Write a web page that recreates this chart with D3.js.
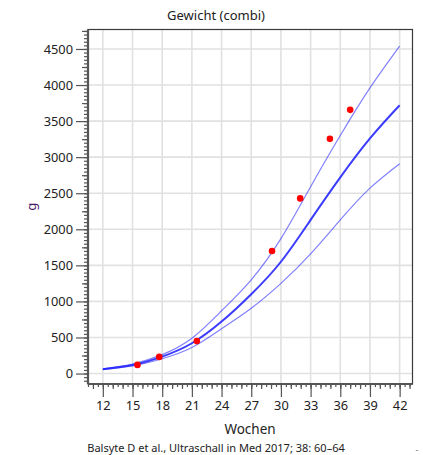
<!DOCTYPE html>
<html>
<head>
<meta charset="utf-8">
<script src="https://cdn.jsdelivr.net/npm/d3@7"></script>
<style>
    body { margin: 0; background: #fff; }
    text { font-family: 'Noto Sans', 'Open Sans', sans-serif; }
</style>
</head>
<body>
<svg id="chart" width="423" height="455"></svg>
<script>
// weeks at which the reference curves were read
const weeks = [12, 15, 18, 21, 24, 27, 30, 33, 36, 39, 42];
const upper = [65, 132, 262, 490, 870, 1300, 1870, 2590, 3300, 3960, 4540];
const median = [60, 118, 235, 420, 720, 1100, 1550, 2130, 2720, 3260, 3720];
const lower = [56, 105, 205, 360, 620, 905, 1250, 1660, 2130, 2570, 2910];

// measured points
const pointWeeks = [15.5, 17.7, 21.5, 29.1, 31.95, 34.95, 37.0];
const pointValues = [120, 231, 450, 1700, 2428, 3254, 3656];

const xTicks = [12, 15, 18, 21, 24, 27, 30, 33, 36, 39, 42];
const yTicks = [0, 500, 1000, 1500, 2000, 2500, 3000, 3500, 4000, 4500];

const title = 'Gewicht (combi)';
const xLabel = 'Wochen';
const yLabel = 'g';
const source = 'Balsyte D et al., Ultraschall in Med 2017; 38: 60\u201364';

const M = { left: 88, top: 29.5, right: 412.5, bottom: 384 };

const svg = d3.select('#chart');

const x = d3.scaleLinear().domain([10.5, 43.3]).range([M.left, M.right]);
const y = d3.scaleLinear().domain([-145, 4770]).range([M.bottom, M.top]);

// grid
const grid = svg.append('g').attr('class', 'grid');
grid.selectAll('line.gx')
    .data(xTicks)
    .enter()
    .append('line')
    .attr('class', 'gx')
    .attr('x1', d => x(d)).attr('x2', d => x(d))
    .attr('y1', M.top).attr('y2', M.bottom)
    .attr('stroke', '#e1e1e1')
    .attr('stroke-width', 1.6);
grid.selectAll('line.gy')
    .data(yTicks)
    .enter()
    .append('line')
    .attr('class', 'gy')
    .attr('x1', M.left).attr('x2', M.right)
    .attr('y1', d => y(d)).attr('y2', d => y(d))
    .attr('stroke', '#e1e1e1')
    .attr('stroke-width', 1.6);

// frame
svg.append('rect')
    .attr('x', M.left).attr('y', M.top)
    .attr('width', M.right - M.left).attr('height', M.bottom - M.top)
    .attr('fill', 'none')
    .attr('stroke', '#3a3a3a')
    .attr('stroke-width', 1.2);

// x axis: major, integer and half-week ticks
const xAxis = svg.append('g').attr('transform', `translate(0,${M.bottom})`);
xAxis.call(d3.axisBottom(x).tickValues(d3.range(10.5, 43.3, 0.5)).tickSize(3).tickFormat(''));
xAxis.append('g').call(d3.axisBottom(x).tickValues(d3.range(11, 44, 1)).tickSize(5).tickFormat(''));
xAxis.append('g').call(d3.axisBottom(x).tickValues(xTicks).tickSize(13).tickPadding(4).tickFormat(d3.format('d')));
xAxis.selectAll('.domain').remove();
xAxis.selectAll('line').attr('stroke', '#555').attr('stroke-width', 1.2);
xAxis.selectAll('text').attr('font-size', 12.8).attr('fill', '#222');
xAxis.append('line')
    .attr('x1', M.left).attr('x2', M.right)
    .attr('stroke', '#555').attr('stroke-width', 2.2);

// y axis: major, 250 and 50 g ticks
const yAxis = svg.append('g').attr('transform', `translate(${M.left},0)`);
yAxis.call(d3.axisLeft(y).tickValues(d3.range(-100, 4770, 50)).tickSize(4).tickFormat(''));
yAxis.append('g').call(d3.axisLeft(y).tickValues(d3.range(250, 4770, 500)).tickSize(6).tickFormat(''));
yAxis.append('g').call(d3.axisLeft(y).tickValues(yTicks).tickSize(12).tickPadding(3).tickFormat(d3.format('d')));
yAxis.selectAll('.domain').remove();
yAxis.selectAll('line').attr('stroke', '#555').attr('stroke-width', 1.2);
yAxis.selectAll('text').attr('font-size', 12.8).attr('fill', '#222');
yAxis.append('line')
    .attr('y1', M.top).attr('y2', M.bottom)
    .attr('stroke', '#555').attr('stroke-width', 2.2);

// curves
const line = d3.line()
    .x(d => x(d[0]))
    .y(d => y(d[1]))
    .curve(d3.curveNatural);

const curves = [
    { values: upper, width: 1.2, opacity: 0.55 },
    { values: lower, width: 1.2, opacity: 0.55 },
    { values: median, width: 2, opacity: 0.85 }
];

svg.append('g')
    .selectAll('path')
    .data(curves)
    .enter()
    .append('path')
    .attr('d', c => line(weeks.map((w, i) => [w, c.values[i]])))
    .attr('fill', 'none')
    .attr('stroke', '#1a1aff')
    .attr('stroke-opacity', c => c.opacity)
    .attr('stroke-width', c => c.width);

// points
svg.append('g')
    .selectAll('circle')
    .data(pointWeeks.map((w, i) => [w, pointValues[i]]))
    .enter()
    .append('circle')
    .attr('cx', d => x(d[0]))
    .attr('cy', d => y(d[1]))
    .attr('r', 3.3)
    .attr('fill', '#f00');

// labels
svg.append('text')
    .attr('x', 216).attr('y', 20)
    .attr('text-anchor', 'middle')
    .attr('font-size', 13)
    .attr('fill', '#222')
    .text(title);

svg.append('text')
    .attr('x', 250).attr('y', 434)
    .attr('text-anchor', 'middle')
    .attr('font-size', 13.5)
    .attr('fill', '#222')
    .text(xLabel);

svg.append('text')
    .attr('transform', `translate(36,${(M.top + M.bottom) / 2}) rotate(-90)`)
    .attr('text-anchor', 'middle')
    .attr('font-size', 13)
    .attr('fill', '#4a1a6a')
    .text(yLabel);

svg.append('text')
    .attr('x', 216).attr('y', 452)
    .attr('text-anchor', 'middle')
    .attr('font-size', 11)
    .attr('fill', '#222')
    .text(source);

svg.append('text')
    .attr('x', 417).attr('y', 453)
    .attr('text-anchor', 'middle')
    .attr('font-size', 9)
    .attr('fill', '#777')
    .text('-');
</script>
</body>
</html>
